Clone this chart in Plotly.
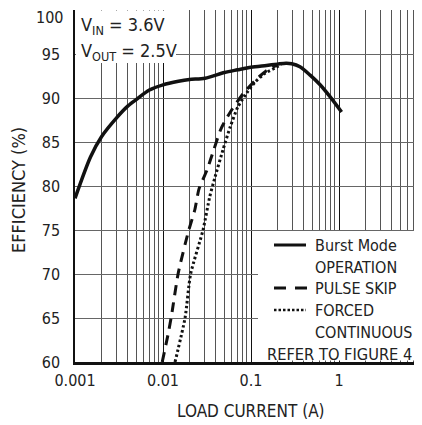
import plotly.graph_objects as go

# ---- data ----
burst_x = [0.001, 0.0015, 0.002, 0.003, 0.004, 0.005, 0.007, 0.01, 0.015, 0.02, 0.03, 0.05,
           0.07, 0.1, 0.15, 0.2, 0.25, 0.29, 0.36, 0.47, 0.61, 0.79, 1.07]
burst_y = [78.6, 83.3, 85.6, 87.8, 89.1, 89.85, 90.9, 91.5, 91.9, 92.1, 92.25, 92.9,
           93.2, 93.5, 93.7, 93.85, 93.95, 93.9, 93.55, 92.6, 91.5, 90.15, 88.4]

pulse_x = [0.0098, 0.0115, 0.0125, 0.0149, 0.0194, 0.023, 0.0257, 0.0316, 0.038, 0.0456,
           0.059, 0.083, 0.12, 0.15, 0.2]
pulse_y = [60, 63.3, 65.3, 70.1, 74.8, 77.3, 79.7, 81.8, 84.2, 86.5,
           88.5, 90.6, 92.3, 93.1, 93.8]

forced_x = [0.0137, 0.0178, 0.0206, 0.0285, 0.034, 0.039, 0.048, 0.058, 0.071, 0.09,
            0.111, 0.144, 0.187, 0.22]
forced_y = [60, 65, 70, 75, 78.8, 81, 84.1, 86.7, 89, 90.6,
            91.8, 92.8, 93.4, 93.8]

x_major = [0.001, 0.01, 0.1, 1]
x_major_text = ["0.001", "0.01", "0.1", "1"]
x_minor = [m * d for d in [0.001, 0.01, 0.1, 1] for m in range(2, 10)]
y_ticks = [60, 65, 70, 75, 80, 85, 90, 95, 100]
y_tick_text = ["60", "65", "70", "75", "80", "85", "90", "95", "100"]

legend_lines = ["Burst Mode", "OPERATION", "PULSE SKIP", "FORCED", "CONTINUOUS"]
note_text = "REFER TO FIGURE 4"
cond_lines = ["V<sub>IN</sub> = 3.6V", "V<sub>OUT</sub> = 2.5V"]
x_title = "LOAD CURRENT (A)"
y_title = "EFFICIENCY (%)"

# ---- layout geometry ----
# the page body has an 8px margin, so the figure is drawn at (8, 8) in the window
OFF = 8
W, H = 422 - OFF, 425 - OFF
L, R, T = 75 - OFF, 0, 10 - OFF
B = H - (362 - OFF)
PW, PH = W - L - R, H - T - B
FONT = "DejaVu Sans Condensed, Liberation Sans Narrow, Liberation Sans, sans-serif"


def px(x):  # window pixel -> paper x
    return (x - OFF - L) / PW


def py(y):  # window pixel -> paper y
    return (H - B - (y - OFF)) / PH


fig = go.Figure()
fig.add_trace(go.Scatter(x=burst_x, y=burst_y, mode="lines",
                         line=dict(color="#111", width=3.5, shape="spline", smoothing=0.8),
                         showlegend=False))
fig.add_trace(go.Scatter(x=pulse_x, y=pulse_y, mode="lines",
                         line=dict(color="#111", width=3, dash="10px,7px", shape="spline", smoothing=0.6),
                         showlegend=False))
fig.add_trace(go.Scatter(x=forced_x, y=forced_y, mode="lines",
                         line=dict(color="#111", width=3, dash="2.5px,2.5px", shape="spline", smoothing=0.6),
                         showlegend=False))

shapes = [
    # white backing boxes
    dict(type="rect", xref="paper", yref="paper", x0=px(76), x1=px(176), y0=py(63), y1=py(10.5),
         fillcolor="white", line=dict(width=0), layer="above"),
    dict(type="rect", xref="paper", yref="paper", x0=px(258), x1=px(423), y0=py(360.5), y1=py(231),
         fillcolor="white", line=dict(width=0), layer="above"),
    # legend samples
    dict(type="line", xref="paper", yref="paper", x0=px(274), x1=px(306), y0=py(245), y1=py(245),
         line=dict(color="#111", width=3), layer="above"),
    dict(type="line", xref="paper", yref="paper", x0=px(274), x1=px(307), y0=py(288), y1=py(288),
         line=dict(color="#111", width=3, dash="12px,9px"), layer="above"),
    dict(type="line", xref="paper", yref="paper", x0=px(274), x1=px(306), y0=py(310), y1=py(310),
         line=dict(color="#111", width=2.5, dash="2.5px,2px"), layer="above"),
]

tf = dict(family=FONT, size=16, color="#222")
big = dict(family=FONT, size=18, color="#222")
annotations = [
    dict(xref="paper", yref="paper", x=px(79), y=py(26), xanchor="left", yanchor="middle",
         text=cond_lines[0], showarrow=False, align="left", font=big),
    dict(xref="paper", yref="paper", x=px(79), y=py(52), xanchor="left", yanchor="middle",
         text=cond_lines[1], showarrow=False, align="left", font=big),
    # top tick label, nudged down as in the reference so it stays inside the page
    dict(xref="paper", yref="paper", x=px(65), y=py(17), xanchor="right", yanchor="middle",
         text=y_tick_text[-1], showarrow=False, font=tf),
]
for txt, yy in zip(legend_lines, [245, 267, 288, 310, 332]):
    annotations.append(dict(xref="paper", yref="paper", x=px(313), y=py(yy), xanchor="left",
                            yanchor="middle", text=txt, showarrow=False, align="left", font=tf))
annotations += [
    dict(xref="paper", yref="paper", x=px(265), y=py(354), xanchor="left", yanchor="middle",
         text=note_text, showarrow=False, align="left", font=dict(family=FONT, size=16.3, color="#222")),
    dict(xref="paper", yref="paper", x=px(251), y=py(411), xanchor="center", yanchor="middle",
         text=x_title, showarrow=False, font=dict(family=FONT, size=17, color="#222")),
    dict(xref="paper", yref="paper", x=px(18), y=py(190), xanchor="center", yanchor="middle",
         text=y_title, textangle=-90, showarrow=False, font=dict(family=FONT, size=18, color="#222")),
]

fig.update_layout(
    width=W, height=H,
    margin=dict(l=L, r=R, t=T, b=B, pad=0, autoexpand=False),
    paper_bgcolor="white", plot_bgcolor="white",
    font=dict(family=FONT, size=16, color="#222"),
    shapes=shapes, annotations=annotations,
    showlegend=False,
)
fig.update_xaxes(
    type="log", range=[-3, -3 + PW / 88.0], automargin=False,
    tickvals=x_major, ticktext=x_major_text, ticks="", ticklabelstandoff=2,
    showgrid=True, gridcolor="#111", gridwidth=1.2,
    minor=dict(tickvals=x_minor, showgrid=True, gridcolor="#555", gridwidth=1, ticks=""),
    showline=True, linecolor="#111", linewidth=2.5, mirror=False, zeroline=False,
    tickfont=tf,
)
fig.update_yaxes(
    range=[60, 100], tickvals=y_ticks, ticktext=y_tick_text[:-1] + [""],
    ticks="", ticklabelstandoff=10, automargin=False,
    showgrid=True, gridcolor="#666", gridwidth=1,
    showline=True, linecolor="#111", linewidth=1.5, zeroline=False,
    tickfont=tf,
)

fig.write_html("out.html")
